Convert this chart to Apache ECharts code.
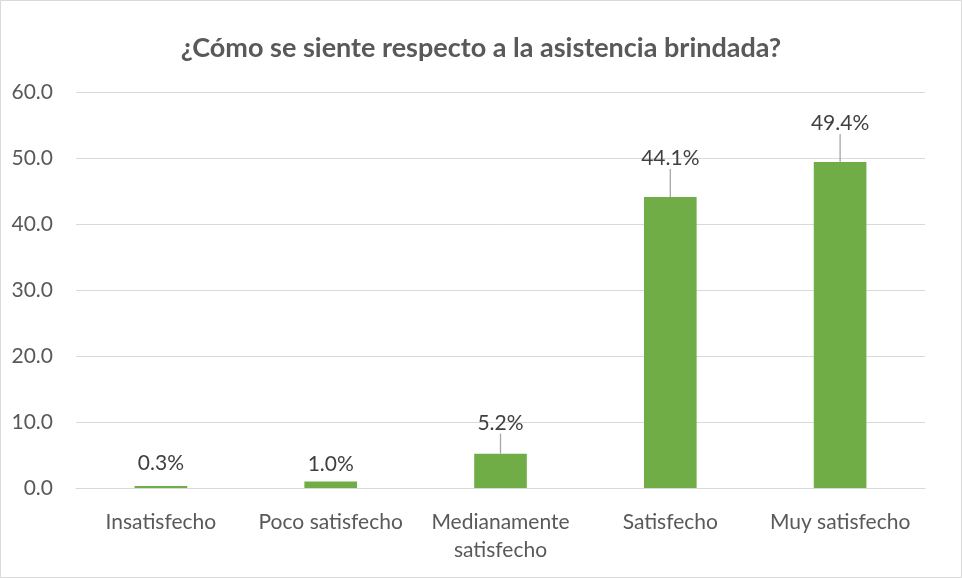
<!DOCTYPE html>
<html>
<head>
<meta charset="utf-8">
<script src="https://cdn.jsdelivr.net/npm/echarts@6/dist/echarts.min.js"></script>
<style>
  html, body { margin: 0; padding: 0; background: #fff; }
  #chart { width: 962px; height: 578px; }
</style>
</head>
<body>
<div id="chart"></div>
<script>
// Survey answers: share of respondents per satisfaction level (%)
const categories = ['Insatisfecho', 'Poco satisfecho', 'Medianamente\nsatisfecho', 'Satisfecho', 'Muy satisfecho'];
const values = [0.3, 1.0, 5.2, 44.1, 49.4];
const yTicks = { min: 0, max: 60, interval: 10 };
const titleText = '¿Cómo se siente respecto a la asistencia brindada?';

// How far each value label is lifted above its bar, and whether a leader line is drawn
const labelLift = [8, 3, 16, 24, 24];
const showLeader = [false, false, true, true, true];

const FONT = 'Lato, "Open Sans", sans-serif';

const chart = echarts.init(document.getElementById('chart'));

chart.setOption({
  backgroundColor: '#ffffff',
  animation: false,
  title: {
    text: titleText,
    left: 'center',
    top: 30,
    textStyle: { fontFamily: FONT, fontSize: 27, fontWeight: 'bold', color: '#595959' }
  },
  graphic: [{
    type: 'rect',
    shape: { x: 0.5, y: 0.5, width: 961, height: 577 },
    style: { fill: 'none', stroke: '#d9d9d9', lineWidth: 1 },
    silent: true
  }],
  grid: { left: 76, right: 37, top: 92, bottom: 90, containLabel: false },
  xAxis: {
    type: 'category',
    data: categories,
    axisLine: { lineStyle: { color: '#d9d9d9', width: 1 } },
    axisTick: { show: false },
    axisLabel: {
      fontFamily: FONT, fontSize: 21, color: '#595959',
      margin: 20, lineHeight: 28, interval: 0
    }
  },
  yAxis: {
    type: 'value',
    min: yTicks.min, max: yTicks.max, interval: yTicks.interval,
    axisLine: { show: false },
    axisTick: { show: false },
    splitLine: { lineStyle: { color: '#d9d9d9', width: 1 } },
    axisLabel: {
      fontFamily: FONT, fontSize: 21, color: '#595959', margin: 23,
      formatter: v => v.toFixed(1)
    }
  },
  series: [{
    type: 'bar',
    barWidth: '31%',
    data: values.map((v, i) => ({
      value: v,
      labelLine: { show: showLeader[i] }
    })),
    itemStyle: { color: '#70ad47' },
    label: {
      show: true,
      position: 'top',
      distance: 4,
      fontFamily: FONT, fontSize: 21, color: '#404040',
      formatter: p => p.value.toFixed(1) + '%'
    },
    labelLine: {
      show: true,
      lineStyle: { color: '#a6a6a6', width: 1.3 }
    },
    labelLayout: p => ({ dy: -labelLift[p.dataIndex] })
  }]
});
</script>
</body>
</html>
